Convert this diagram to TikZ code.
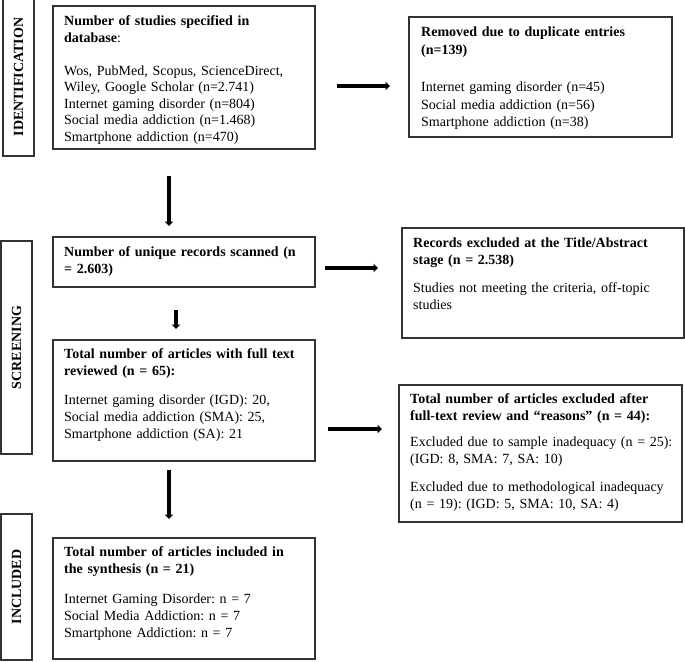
\documentclass[tikz,border=0pt]{standalone}
\usepackage{fontspec}
\setmainfont{Liberation Serif}
\usetikzlibrary{arrows.meta}
\frenchspacing
\tikzset{
  box/.style={draw=black!80, line width=1.2pt, anchor=north west, inner sep=0pt, outer sep=0pt},
  txt/.style={anchor=base west, inner sep=0pt, align=left, text width=275pt},
  arr/.style={line width=3.3pt, -{Triangle[length=4.5pt,width=8.5pt]}},
  lab/.style={draw=black!80, line width=1.2pt, rotate=90, inner sep=0pt, minimum height=31pt,
    font=\fontsize{14}{17}\selectfont\bfseries},
}
\begin{document}
\begin{tikzpicture}[x=1pt,y=-1pt]
\useasboundingbox (0,0) rectangle (685,661);

% phase labels
\node[lab, minimum width=158pt] (lid) at (18.5,77) {IDENTIFICATION};
\node[lab, minimum width=213pt] (lsc) at (16.5,347.5) {SCREENING};
\node[lab, minimum width=146pt] (lin) at (16.5,587) {INCLUDED};

% boxes
\node[box, minimum width=262pt, minimum height=143pt] (b1) at (53,6) {};
\node[box, minimum width=263pt, minimum height=120pt] (b2) at (409,17) {};
\node[box, minimum width=262pt, minimum height=50pt] (b3) at (53,237) {};
\node[box, minimum width=282pt, minimum height=110pt] (b5) at (402,228) {};
\node[box, minimum width=262pt, minimum height=121pt] (b4) at (53,340) {};
\node[box, minimum width=283pt, minimum height=137pt] (b6) at (399,385) {};
\node[box, minimum width=262pt, minimum height=121pt] (b7) at (53,538) {};

% texts
\node[txt, font=\fontsize{14}{16.5}\selectfont] (t1) at (64,26)
 {\textbf{Number of studies specified in}\\
  \textbf{database}:\\[16.5pt]
  Wos, PubMed, Scopus, ScienceDirect,\\
  Wiley, Google Scholar (n=2.741)\\
  Internet gaming disorder (n=804)\\
  Social media addiction (n=1.468)\\
  Smartphone addiction (n=470)};

\node[txt, font=\fontsize{14}{17.5}\selectfont] (t2) at (421,37)
 {\textbf{Removed due to duplicate entries}\\
  \textbf{(n=139)}\\[20pt]
  Internet gaming disorder (n=45)\\
  Social media addiction (n=56)\\
  Smartphone addiction (n=38)};

\node[txt, font=\fontsize{14}{17}\selectfont] (t3) at (64,256)
 {\textbf{Number of unique records scanned (n}\\
  \textbf{= 2.603)}};

\node[txt, font=\fontsize{14}{17}\selectfont] (t5) at (413,247)
 {\textbf{Records excluded at the Title/Abstract}\\
  \textbf{stage (n = 2.538)}\\[11pt]
  Studies not meeting the criteria, off-topic\\
  studies};

\node[txt, font=\fontsize{14}{17}\selectfont] (t4) at (64,358)
 {\textbf{Total number of articles with full text}\\
  \textbf{reviewed (n = 65):}\\[12pt]
  Internet gaming disorder (IGD): 20,\\
  Social media addiction (SMA): 25,\\
  Smartphone addiction (SA): 21};

\node[txt, font=\fontsize{14}{17}\selectfont] (t6) at (410,403)
 {\textbf{Total number of articles excluded after}\\
  \textbf{full-text review and “reasons” (n = 44):}\\[9pt]
  Excluded due to sample inadequacy (n = 25):\\
  (IGD: 8, SMA: 7, SA: 10)\\[11pt]
  Excluded due to methodological inadequacy\\
  (n = 19): (IGD: 5, SMA: 10, SA: 4)};

\node[txt, font=\fontsize{14}{17}\selectfont] (t7) at (64,556)
 {\textbf{Total number of articles included in}\\
  \textbf{the synthesis (n = 21)}\\[13pt]
  Internet Gaming Disorder: n = 7\\
  Social Media Addiction: n = 7\\
  Smartphone Addiction: n = 7};

% arrows
\coordinate (a1s) at (337,86);  \coordinate (a1e) at (390,86);
\coordinate (a2s) at (325,268); \coordinate (a2e) at (378,268);
\coordinate (a3s) at (328,429); \coordinate (a3e) at (382,429);
\coordinate (d1s) at (169,176); \coordinate (d1e) at (169,226);
\coordinate (d2s) at (176,310); \coordinate (d2e) at (176,329);
\coordinate (d3s) at (169,470); \coordinate (d3e) at (169,519);
\draw[arr] (a1s) -- (a1e);
\draw[arr] (a2s) -- (a2e);
\draw[arr] (a3s) -- (a3e);
\draw[arr] (d1s) -- (d1e);
\draw[arr] (d2s) -- (d2e);
\draw[arr] (d3s) -- (d3e);
\end{tikzpicture}
\end{document}
